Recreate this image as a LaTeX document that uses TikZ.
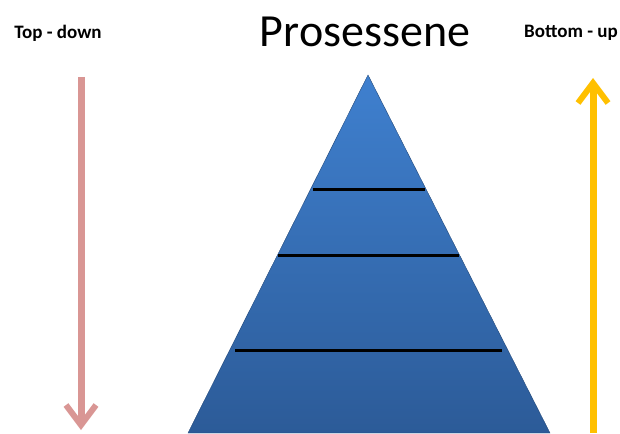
\documentclass[tikz,border=0pt]{standalone}
\usepackage{fontspec}
\setmainfont{Carlito}
\usetikzlibrary{arrows.meta}
\definecolor{pinkarr}{HTML}{D99694}
\definecolor{yelarr}{HTML}{FFC000}
\definecolor{blueTop}{HTML}{3F80CF}
\definecolor{blueBot}{HTML}{2C5B98}
\tikzset{
  label/.style={font=\bfseries\fontsize{19}{22}\selectfont, inner sep=0pt},
  bigarrow/.style={line width=7pt, -{Straight Barb[length=20pt,width=30pt,line width=6pt]}},
  divider/.style={line width=3pt, black}
}
\begin{document}
\begin{tikzpicture}[x=1pt,y=-1pt]
\useasboundingbox (0,0) rectangle (620,433);
\node[label] (td) at (58,33) {Top - down};
\node[label] (bu) at (571,33) {Bottom - up};
\node[inner sep=0pt, font=\fontsize{46}{54}\selectfont] (title) at (365,32) {Prosessene};
% pyramid
\shade[top color=blueTop, bottom color=blueBot, draw=blueBot!80!black, line width=0.4pt]
  (368,75) -- (550,433) -- (188,433) -- cycle;
\draw[divider] (313,189) -- (425,189);
\draw[divider] (278,255) -- (459,255);
\draw[divider] (235,350) -- (502,350);
% arrows
\coordinate (p1) at (81,77);
\coordinate (p2) at (81,430);
\coordinate (y1) at (593,433);
\coordinate (y2) at (593,78);
\draw[bigarrow, pinkarr] (p1) -- (p2);
\draw[bigarrow, yelarr] (y1) -- (y2);
\end{tikzpicture}
\end{document}
